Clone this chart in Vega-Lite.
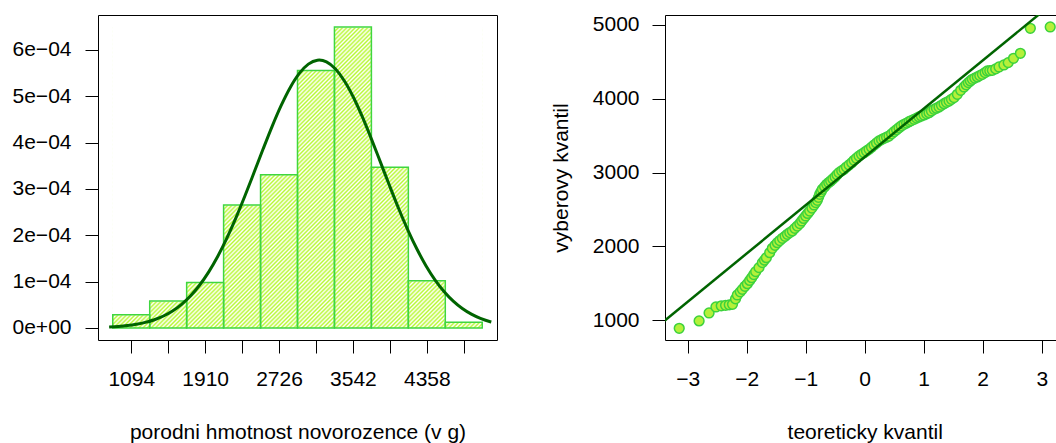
{
"$schema": "https://vega.github.io/schema/vega-lite/v6.json",
"background": "white",
"padding": {"left": 11, "top": 13, "right": 0, "bottom": 0},
"config": {
  "font": "Liberation Sans",
  "axis": {"grid": false, "labelFont": "Liberation Sans", "labelFontSize": 21, "labelColor": "black", "titleFont": "Liberation Sans", "titleFontSize": 21, "titleFontWeight": "normal", "titleColor": "black", "tickColor": "black", "tickSize": 13, "tickWidth": 1, "domainColor": "black", "domainWidth": 1, "labelFlush": false, "labelOverlap": false}
},
"datasets": {
  "bars": [
    {"start": 890, "end": 1298, "density": 0.0000286},
    {"start": 1298, "end": 1706, "density": 0.000058},
    {"start": 1706, "end": 2114, "density": 0.000098},
    {"start": 2114, "end": 2522, "density": 0.0002655},
    {"start": 2522, "end": 2930, "density": 0.000331},
    {"start": 2930, "end": 3338, "density": 0.0005555},
    {"start": 3338, "end": 3746, "density": 0.0006495},
    {"start": 3746, "end": 4154, "density": 0.000347},
    {"start": 4154, "end": 4562, "density": 0.000102},
    {"start": 4562, "end": 4970, "density": 0.0000123}
  ],
  "curve": [
    {"x": 850, "d": 2.03e-6}, {"x": 950, "d": 3.27e-6}, {"x": 1050, "d": 5.15e-6}, {"x": 1150, "d": 7.96e-6},
    {"x": 1250, "d": 1.205e-5}, {"x": 1350, "d": 1.784e-5}, {"x": 1450, "d": 2.587e-5}, {"x": 1550, "d": 3.674e-5},
    {"x": 1650, "d": 5.109e-5}, {"x": 1750, "d": 6.956e-5}, {"x": 1850, "d": 9.277e-5}, {"x": 1950, "d": 1.2113e-4},
    {"x": 2050, "d": 1.5486e-4}, {"x": 2150, "d": 1.9388e-4}, {"x": 2250, "d": 2.377e-4}, {"x": 2350, "d": 2.8538e-4},
    {"x": 2450, "d": 3.3546e-4}, {"x": 2550, "d": 3.8616e-4}, {"x": 2650, "d": 4.3527e-4}, {"x": 2750, "d": 4.8041e-4},
    {"x": 2850, "d": 5.1927e-4}, {"x": 2950, "d": 5.4956e-4}, {"x": 3050, "d": 5.6952e-4}, {"x": 3150, "d": 5.7796e-4},
    {"x": 3170, "d": 5.782e-4}, {"x": 3250, "d": 5.7433e-4}, {"x": 3350, "d": 5.5885e-4}, {"x": 3450, "d": 5.325e-4},
    {"x": 3550, "d": 4.9685e-4}, {"x": 3650, "d": 4.5392e-4}, {"x": 3750, "d": 4.061e-4}, {"x": 3850, "d": 3.5577e-4},
    {"x": 3950, "d": 3.0523e-4}, {"x": 4050, "d": 2.5637e-4}, {"x": 4150, "d": 2.1088e-4}, {"x": 4250, "d": 1.6986e-4},
    {"x": 4350, "d": 1.3398e-4}, {"x": 4450, "d": 1.0348e-4}, {"x": 4550, "d": 7.825e-5}, {"x": 4650, "d": 5.795e-5},
    {"x": 4750, "d": 4.202e-5}, {"x": 4850, "d": 2.985e-5}, {"x": 4950, "d": 2.075e-5}, {"x": 5050, "d": 1.413e-5},
    {"x": 5070, "d": 1.306e-5}
  ],
  "qq": [
    {"q": -3.144, "v": 891}, {"q": -2.807, "v": 991}, {"q": -2.638, "v": 1099}, {"q": -2.522, "v": 1180},
    {"q": -2.432, "v": 1196}, {"q": -2.359, "v": 1203}, {"q": -2.296, "v": 1210}, {"q": -2.241, "v": 1216},
    {"q": -2.19, "v": 1290}, {"q": -2.159, "v": 1343}, {"q": -2.11, "v": 1385}, {"q": -2.074, "v": 1419},
    {"q": -2.03, "v": 1460}, {"q": -1.989, "v": 1496}, {"q": -1.95, "v": 1540}, {"q": -1.916, "v": 1577},
    {"q": -1.88, "v": 1620}, {"q": -1.848, "v": 1659}, {"q": -1.792, "v": 1713}, {"q": -1.735, "v": 1781},
    {"q": -1.7, "v": 1815}, {"q": -1.667, "v": 1848}, {"q": -1.611, "v": 1916}, {"q": -1.566, "v": 1975},
    {"q": -1.52, "v": 2015}, {"q": -1.481, "v": 2051}, {"q": -1.44, "v": 2080}, {"q": -1.396, "v": 2110},
    {"q": -1.35, "v": 2138}, {"q": -1.311, "v": 2164}, {"q": -1.27, "v": 2188}, {"q": -1.227, "v": 2210},
    {"q": -1.185, "v": 2245}, {"q": -1.142, "v": 2277}, {"q": -1.1, "v": 2310}, {"q": -1.068, "v": 2345},
    {"q": -1.035, "v": 2380}, {"q": -1.001, "v": 2413}, {"q": -0.967, "v": 2447}, {"q": -0.933, "v": 2480},
    {"q": -0.895, "v": 2520}, {"q": -0.859, "v": 2562}, {"q": -0.83, "v": 2595}, {"q": -0.803, "v": 2625},
    {"q": -0.783, "v": 2665}, {"q": -0.763, "v": 2706}, {"q": -0.74, "v": 2740}, {"q": -0.718, "v": 2774},
    {"q": -0.68, "v": 2810}, {"q": -0.645, "v": 2842}, {"q": -0.61, "v": 2865}, {"q": -0.577, "v": 2887},
    {"q": -0.54, "v": 2915}, {"q": -0.503, "v": 2941}, {"q": -0.47, "v": 2970}, {"q": -0.436, "v": 3000},
    {"q": -0.39, "v": 3025}, {"q": -0.351, "v": 3045}, {"q": -0.31, "v": 3075}, {"q": -0.266, "v": 3104},
    {"q": -0.22, "v": 3135}, {"q": -0.181, "v": 3167}, {"q": -0.14, "v": 3195}, {"q": -0.097, "v": 3225},
    {"q": -0.055, "v": 3248}, {"q": -0.012, "v": 3270}, {"q": 0.03, "v": 3293}, {"q": 0.073, "v": 3316},
    {"q": 0.115, "v": 3345}, {"q": 0.158, "v": 3374}, {"q": 0.2, "v": 3402}, {"q": 0.242, "v": 3429},
    {"q": 0.285, "v": 3447}, {"q": 0.327, "v": 3465}, {"q": 0.37, "v": 3480}, {"q": 0.412, "v": 3496},
    {"q": 0.455, "v": 3525}, {"q": 0.497, "v": 3555}, {"q": 0.54, "v": 3582}, {"q": 0.581, "v": 3609},
    {"q": 0.62, "v": 3632}, {"q": 0.666, "v": 3654}, {"q": 0.71, "v": 3672}, {"q": 0.751, "v": 3690},
    {"q": 0.79, "v": 3706}, {"q": 0.836, "v": 3722}, {"q": 0.88, "v": 3738}, {"q": 0.92, "v": 3754},
    {"q": 0.96, "v": 3768}, {"q": 1.005, "v": 3781}, {"q": 1.05, "v": 3796}, {"q": 1.09, "v": 3812},
    {"q": 1.13, "v": 3835}, {"q": 1.175, "v": 3858}, {"q": 1.215, "v": 3873}, {"q": 1.259, "v": 3889},
    {"q": 1.3, "v": 3912}, {"q": 1.344, "v": 3934}, {"q": 1.385, "v": 3952}, {"q": 1.429, "v": 3970},
    {"q": 1.47, "v": 3993}, {"q": 1.514, "v": 4016}, {"q": 1.57, "v": 4061}, {"q": 1.627, "v": 4115},
    {"q": 1.683, "v": 4160}, {"q": 1.72, "v": 4190}, {"q": 1.756, "v": 4219}, {"q": 1.79, "v": 4242},
    {"q": 1.824, "v": 4264}, {"q": 1.865, "v": 4280}, {"q": 1.909, "v": 4296}, {"q": 1.95, "v": 4314},
    {"q": 1.994, "v": 4332}, {"q": 2.04, "v": 4355}, {"q": 2.078, "v": 4377}, {"q": 2.12, "v": 4380},
    {"q": 2.163, "v": 4386}, {"q": 2.22, "v": 4405}, {"q": 2.276, "v": 4431}, {"q": 2.359, "v": 4458},
    {"q": 2.432, "v": 4490}, {"q": 2.522, "v": 4548}, {"q": 2.638, "v": 4616}, {"q": 2.807, "v": 4955},
    {"q": 3.144, "v": 4973}
  ],
  "qqline": [
    {"q": -3.6, "v": 859},
    {"q": 3.6, "v": 5565}
  ]
},
"spacing": 168,
"bounds": "flush",
"hconcat": [
  {
    "width": 399,
    "height": 325,
    "view": {"stroke": "black", "strokeWidth": 1},
    "encoding": {
      "x": {"type": "quantitative", "scale": {"domain": [727, 5133], "nice": false, "zero": false},
            "axis": {"values": [1094, 1502, 1910, 2318, 2726, 3134, 3542, 3950, 4358, 4766], "labelExpr": "(datum.value - 1094) % 816 == 0 ? format(datum.value, 'd') : ''", "domain": false, "labelPadding": 15, "title": "porodni hmotnost novorozence (v g)", "titleY": 98, "titleBaseline": "alphabetic"}},
      "y": {"type": "quantitative", "scale": {"domain": [-0.0000259, 0.0006755], "nice": false, "zero": false},
            "axis": {"values": [0, 0.0001, 0.0002, 0.0003, 0.0004, 0.0005, 0.0006], "labelExpr": "datum.value < 0.00000001 ? '0e+00' : format(datum.value * 10000, '.0f') + 'e\u221204'", "domain": false, "labelPadding": 14, "title": null}}
    },
    "layer": [
      {
        "data": {"name": "bars"},
        "mark": {"type": "rect", "stroke": null, "fill": {"gradient": "linear", "x1": 0, "y1": 0, "x2": 1.0908, "y2": 0.8885, "stops": [
{"offset":0,"color":"#b8f834"},{"offset":0.003125,"color":"#fff"},{"offset":0.00625,"color":"#b8f834"},{"offset":0.009375,"color":"#fff"},{"offset":0.0125,"color":"#b8f834"},{"offset":0.015625,"color":"#fff"},{"offset":0.01875,"color":"#b8f834"},{"offset":0.021875,"color":"#fff"},{"offset":0.025,"color":"#b8f834"},{"offset":0.028125,"color":"#fff"},{"offset":0.03125,"color":"#b8f834"},{"offset":0.034375,"color":"#fff"},{"offset":0.0375,"color":"#b8f834"},{"offset":0.040625,"color":"#fff"},{"offset":0.04375,"color":"#b8f834"},{"offset":0.046875,"color":"#fff"},{"offset":0.05,"color":"#b8f834"},{"offset":0.053125,"color":"#fff"},{"offset":0.05625,"color":"#b8f834"},{"offset":0.059375,"color":"#fff"},{"offset":0.0625,"color":"#b8f834"},{"offset":0.065625,"color":"#fff"},{"offset":0.06875,"color":"#b8f834"},{"offset":0.071875,"color":"#fff"},{"offset":0.075,"color":"#b8f834"},{"offset":0.078125,"color":"#fff"},{"offset":0.08125,"color":"#b8f834"},{"offset":0.084375,"color":"#fff"},{"offset":0.0875,"color":"#b8f834"},{"offset":0.090625,"color":"#fff"},{"offset":0.09375,"color":"#b8f834"},{"offset":0.096875,"color":"#fff"},
{"offset":0.1,"color":"#b8f834"},{"offset":0.103125,"color":"#fff"},{"offset":0.10625,"color":"#b8f834"},{"offset":0.109375,"color":"#fff"},{"offset":0.1125,"color":"#b8f834"},{"offset":0.115625,"color":"#fff"},{"offset":0.11875,"color":"#b8f834"},{"offset":0.121875,"color":"#fff"},{"offset":0.125,"color":"#b8f834"},{"offset":0.128125,"color":"#fff"},{"offset":0.13125,"color":"#b8f834"},{"offset":0.134375,"color":"#fff"},{"offset":0.1375,"color":"#b8f834"},{"offset":0.140625,"color":"#fff"},{"offset":0.14375,"color":"#b8f834"},{"offset":0.146875,"color":"#fff"},{"offset":0.15,"color":"#b8f834"},{"offset":0.153125,"color":"#fff"},{"offset":0.15625,"color":"#b8f834"},{"offset":0.159375,"color":"#fff"},{"offset":0.1625,"color":"#b8f834"},{"offset":0.165625,"color":"#fff"},{"offset":0.16875,"color":"#b8f834"},{"offset":0.171875,"color":"#fff"},{"offset":0.175,"color":"#b8f834"},{"offset":0.178125,"color":"#fff"},{"offset":0.18125,"color":"#b8f834"},{"offset":0.184375,"color":"#fff"},{"offset":0.1875,"color":"#b8f834"},{"offset":0.190625,"color":"#fff"},{"offset":0.19375,"color":"#b8f834"},{"offset":0.196875,"color":"#fff"},
{"offset":0.2,"color":"#b8f834"},{"offset":0.203125,"color":"#fff"},{"offset":0.20625,"color":"#b8f834"},{"offset":0.209375,"color":"#fff"},{"offset":0.2125,"color":"#b8f834"},{"offset":0.215625,"color":"#fff"},{"offset":0.21875,"color":"#b8f834"},{"offset":0.221875,"color":"#fff"},{"offset":0.225,"color":"#b8f834"},{"offset":0.228125,"color":"#fff"},{"offset":0.23125,"color":"#b8f834"},{"offset":0.234375,"color":"#fff"},{"offset":0.2375,"color":"#b8f834"},{"offset":0.240625,"color":"#fff"},{"offset":0.24375,"color":"#b8f834"},{"offset":0.246875,"color":"#fff"},{"offset":0.25,"color":"#b8f834"},{"offset":0.253125,"color":"#fff"},{"offset":0.25625,"color":"#b8f834"},{"offset":0.259375,"color":"#fff"},{"offset":0.2625,"color":"#b8f834"},{"offset":0.265625,"color":"#fff"},{"offset":0.26875,"color":"#b8f834"},{"offset":0.271875,"color":"#fff"},{"offset":0.275,"color":"#b8f834"},{"offset":0.278125,"color":"#fff"},{"offset":0.28125,"color":"#b8f834"},{"offset":0.284375,"color":"#fff"},{"offset":0.2875,"color":"#b8f834"},{"offset":0.290625,"color":"#fff"},{"offset":0.29375,"color":"#b8f834"},{"offset":0.296875,"color":"#fff"},
{"offset":0.3,"color":"#b8f834"},{"offset":0.303125,"color":"#fff"},{"offset":0.30625,"color":"#b8f834"},{"offset":0.309375,"color":"#fff"},{"offset":0.3125,"color":"#b8f834"},{"offset":0.315625,"color":"#fff"},{"offset":0.31875,"color":"#b8f834"},{"offset":0.321875,"color":"#fff"},{"offset":0.325,"color":"#b8f834"},{"offset":0.328125,"color":"#fff"},{"offset":0.33125,"color":"#b8f834"},{"offset":0.334375,"color":"#fff"},{"offset":0.3375,"color":"#b8f834"},{"offset":0.340625,"color":"#fff"},{"offset":0.34375,"color":"#b8f834"},{"offset":0.346875,"color":"#fff"},{"offset":0.35,"color":"#b8f834"},{"offset":0.353125,"color":"#fff"},{"offset":0.35625,"color":"#b8f834"},{"offset":0.359375,"color":"#fff"},{"offset":0.3625,"color":"#b8f834"},{"offset":0.365625,"color":"#fff"},{"offset":0.36875,"color":"#b8f834"},{"offset":0.371875,"color":"#fff"},{"offset":0.375,"color":"#b8f834"},{"offset":0.378125,"color":"#fff"},{"offset":0.38125,"color":"#b8f834"},{"offset":0.384375,"color":"#fff"},{"offset":0.3875,"color":"#b8f834"},{"offset":0.390625,"color":"#fff"},{"offset":0.39375,"color":"#b8f834"},{"offset":0.396875,"color":"#fff"},
{"offset":0.4,"color":"#b8f834"},{"offset":0.403125,"color":"#fff"},{"offset":0.40625,"color":"#b8f834"},{"offset":0.409375,"color":"#fff"},{"offset":0.4125,"color":"#b8f834"},{"offset":0.415625,"color":"#fff"},{"offset":0.41875,"color":"#b8f834"},{"offset":0.421875,"color":"#fff"},{"offset":0.425,"color":"#b8f834"},{"offset":0.428125,"color":"#fff"},{"offset":0.43125,"color":"#b8f834"},{"offset":0.434375,"color":"#fff"},{"offset":0.4375,"color":"#b8f834"},{"offset":0.440625,"color":"#fff"},{"offset":0.44375,"color":"#b8f834"},{"offset":0.446875,"color":"#fff"},{"offset":0.45,"color":"#b8f834"},{"offset":0.453125,"color":"#fff"},{"offset":0.45625,"color":"#b8f834"},{"offset":0.459375,"color":"#fff"},{"offset":0.4625,"color":"#b8f834"},{"offset":0.465625,"color":"#fff"},{"offset":0.46875,"color":"#b8f834"},{"offset":0.471875,"color":"#fff"},{"offset":0.475,"color":"#b8f834"},{"offset":0.478125,"color":"#fff"},{"offset":0.48125,"color":"#b8f834"},{"offset":0.484375,"color":"#fff"},{"offset":0.4875,"color":"#b8f834"},{"offset":0.490625,"color":"#fff"},{"offset":0.49375,"color":"#b8f834"},{"offset":0.496875,"color":"#fff"},
{"offset":0.5,"color":"#b8f834"},{"offset":0.503125,"color":"#fff"},{"offset":0.50625,"color":"#b8f834"},{"offset":0.509375,"color":"#fff"},{"offset":0.5125,"color":"#b8f834"},{"offset":0.515625,"color":"#fff"},{"offset":0.51875,"color":"#b8f834"},{"offset":0.521875,"color":"#fff"},{"offset":0.525,"color":"#b8f834"},{"offset":0.528125,"color":"#fff"},{"offset":0.53125,"color":"#b8f834"},{"offset":0.534375,"color":"#fff"},{"offset":0.5375,"color":"#b8f834"},{"offset":0.540625,"color":"#fff"},{"offset":0.54375,"color":"#b8f834"},{"offset":0.546875,"color":"#fff"},{"offset":0.55,"color":"#b8f834"},{"offset":0.553125,"color":"#fff"},{"offset":0.55625,"color":"#b8f834"},{"offset":0.559375,"color":"#fff"},{"offset":0.5625,"color":"#b8f834"},{"offset":0.565625,"color":"#fff"},{"offset":0.56875,"color":"#b8f834"},{"offset":0.571875,"color":"#fff"},{"offset":0.575,"color":"#b8f834"},{"offset":0.578125,"color":"#fff"},{"offset":0.58125,"color":"#b8f834"},{"offset":0.584375,"color":"#fff"},{"offset":0.5875,"color":"#b8f834"},{"offset":0.590625,"color":"#fff"},{"offset":0.59375,"color":"#b8f834"},{"offset":0.596875,"color":"#fff"},
{"offset":0.6,"color":"#b8f834"},{"offset":0.603125,"color":"#fff"},{"offset":0.60625,"color":"#b8f834"},{"offset":0.609375,"color":"#fff"},{"offset":0.6125,"color":"#b8f834"},{"offset":0.615625,"color":"#fff"},{"offset":0.61875,"color":"#b8f834"},{"offset":0.621875,"color":"#fff"},{"offset":0.625,"color":"#b8f834"},{"offset":0.628125,"color":"#fff"},{"offset":0.63125,"color":"#b8f834"},{"offset":0.634375,"color":"#fff"},{"offset":0.6375,"color":"#b8f834"},{"offset":0.640625,"color":"#fff"},{"offset":0.64375,"color":"#b8f834"},{"offset":0.646875,"color":"#fff"},{"offset":0.65,"color":"#b8f834"},{"offset":0.653125,"color":"#fff"},{"offset":0.65625,"color":"#b8f834"},{"offset":0.659375,"color":"#fff"},{"offset":0.6625,"color":"#b8f834"},{"offset":0.665625,"color":"#fff"},{"offset":0.66875,"color":"#b8f834"},{"offset":0.671875,"color":"#fff"},{"offset":0.675,"color":"#b8f834"},{"offset":0.678125,"color":"#fff"},{"offset":0.68125,"color":"#b8f834"},{"offset":0.684375,"color":"#fff"},{"offset":0.6875,"color":"#b8f834"},{"offset":0.690625,"color":"#fff"},{"offset":0.69375,"color":"#b8f834"},{"offset":0.696875,"color":"#fff"},
{"offset":0.7,"color":"#b8f834"},{"offset":0.703125,"color":"#fff"},{"offset":0.70625,"color":"#b8f834"},{"offset":0.709375,"color":"#fff"},{"offset":0.7125,"color":"#b8f834"},{"offset":0.715625,"color":"#fff"},{"offset":0.71875,"color":"#b8f834"},{"offset":0.721875,"color":"#fff"},{"offset":0.725,"color":"#b8f834"},{"offset":0.728125,"color":"#fff"},{"offset":0.73125,"color":"#b8f834"},{"offset":0.734375,"color":"#fff"},{"offset":0.7375,"color":"#b8f834"},{"offset":0.740625,"color":"#fff"},{"offset":0.74375,"color":"#b8f834"},{"offset":0.746875,"color":"#fff"},{"offset":0.75,"color":"#b8f834"},{"offset":0.753125,"color":"#fff"},{"offset":0.75625,"color":"#b8f834"},{"offset":0.759375,"color":"#fff"},{"offset":0.7625,"color":"#b8f834"},{"offset":0.765625,"color":"#fff"},{"offset":0.76875,"color":"#b8f834"},{"offset":0.771875,"color":"#fff"},{"offset":0.775,"color":"#b8f834"},{"offset":0.778125,"color":"#fff"},{"offset":0.78125,"color":"#b8f834"},{"offset":0.784375,"color":"#fff"},{"offset":0.7875,"color":"#b8f834"},{"offset":0.790625,"color":"#fff"},{"offset":0.79375,"color":"#b8f834"},{"offset":0.796875,"color":"#fff"},
{"offset":0.8,"color":"#b8f834"},{"offset":0.803125,"color":"#fff"},{"offset":0.80625,"color":"#b8f834"},{"offset":0.809375,"color":"#fff"},{"offset":0.8125,"color":"#b8f834"},{"offset":0.815625,"color":"#fff"},{"offset":0.81875,"color":"#b8f834"},{"offset":0.821875,"color":"#fff"},{"offset":0.825,"color":"#b8f834"},{"offset":0.828125,"color":"#fff"},{"offset":0.83125,"color":"#b8f834"},{"offset":0.834375,"color":"#fff"},{"offset":0.8375,"color":"#b8f834"},{"offset":0.840625,"color":"#fff"},{"offset":0.84375,"color":"#b8f834"},{"offset":0.846875,"color":"#fff"},{"offset":0.85,"color":"#b8f834"},{"offset":0.853125,"color":"#fff"},{"offset":0.85625,"color":"#b8f834"},{"offset":0.859375,"color":"#fff"},{"offset":0.8625,"color":"#b8f834"},{"offset":0.865625,"color":"#fff"},{"offset":0.86875,"color":"#b8f834"},{"offset":0.871875,"color":"#fff"},{"offset":0.875,"color":"#b8f834"},{"offset":0.878125,"color":"#fff"},{"offset":0.88125,"color":"#b8f834"},{"offset":0.884375,"color":"#fff"},{"offset":0.8875,"color":"#b8f834"},{"offset":0.890625,"color":"#fff"},{"offset":0.89375,"color":"#b8f834"},{"offset":0.896875,"color":"#fff"},
{"offset":0.9,"color":"#b8f834"},{"offset":0.903125,"color":"#fff"},{"offset":0.90625,"color":"#b8f834"},{"offset":0.909375,"color":"#fff"},{"offset":0.9125,"color":"#b8f834"},{"offset":0.915625,"color":"#fff"},{"offset":0.91875,"color":"#b8f834"},{"offset":0.921875,"color":"#fff"},{"offset":0.925,"color":"#b8f834"},{"offset":0.928125,"color":"#fff"},{"offset":0.93125,"color":"#b8f834"},{"offset":0.934375,"color":"#fff"},{"offset":0.9375,"color":"#b8f834"},{"offset":0.940625,"color":"#fff"},{"offset":0.94375,"color":"#b8f834"},{"offset":0.946875,"color":"#fff"},{"offset":0.95,"color":"#b8f834"},{"offset":0.953125,"color":"#fff"},{"offset":0.95625,"color":"#b8f834"},{"offset":0.959375,"color":"#fff"},{"offset":0.9625,"color":"#b8f834"},{"offset":0.965625,"color":"#fff"},{"offset":0.96875,"color":"#b8f834"},{"offset":0.971875,"color":"#fff"},{"offset":0.975,"color":"#b8f834"},{"offset":0.978125,"color":"#fff"},{"offset":0.98125,"color":"#b8f834"},{"offset":0.984375,"color":"#fff"},{"offset":0.9875,"color":"#b8f834"},{"offset":0.990625,"color":"#fff"},{"offset":0.99375,"color":"#b8f834"},{"offset":0.996875,"color":"#fff"},
{"offset":1,"color":"#b8f834"}
        ]}},
        "encoding": {
          "x": {"aggregate": "min", "field": "start", "type": "quantitative"},
          "x2": {"aggregate": "max", "field": "end"},
          "y": {"aggregate": "max", "field": "density", "type": "quantitative"},
          "y2": {"datum": 0}
        }
      },
      {
        "data": {"name": "bars"},
        "transform": [{"joinaggregate": [{"op": "max", "field": "density", "as": "top"}]}],
        "mark": {"type": "rect", "fill": "white", "stroke": "white", "strokeWidth": 1},
        "encoding": {
          "x": {"field": "start", "type": "quantitative"},
          "x2": {"field": "end"},
          "y": {"field": "density", "type": "quantitative"},
          "y2": {"field": "top"}
        }
      },
      {
        "data": {"name": "bars"},
        "mark": {"type": "rect", "fillOpacity": 0, "stroke": "#3fd63f", "strokeWidth": 1.5},
        "encoding": {
          "x": {"field": "start", "type": "quantitative"},
          "x2": {"field": "end"},
          "y": {"field": "density", "type": "quantitative"},
          "y2": {"datum": 0}
        }
      },
      {
        "data": {"name": "curve"},
        "mark": {"type": "line", "color": "#006400", "strokeWidth": 3, "interpolate": "monotone"},
        "encoding": {
          "x": {"field": "x", "type": "quantitative"},
          "y": {"field": "d", "type": "quantitative"}
        }
      }
    ]
  },
  {
    "width": 392,
    "height": 325,
    "view": {"stroke": null},
    "resolve": {"axis": {"x": "independent"}},
    "layer": [
      {
        "data": {"name": "qq"},
        "mark": {"type": "circle", "size": 95, "fill": "#b5f03a", "stroke": "#3cd23c", "strokeWidth": 1.5, "opacity": 1, "fillOpacity": 1},
        "encoding": {
          "x": {"field": "q", "type": "quantitative", "scale": {"domain": [-3.385, 3.259], "nice": false, "zero": false},
                "axis": {"values": [-3, -2, -1, 0, 1, 2, 3], "format": "d", "domain": true, "labelPadding": 15, "title": "teoreticky kvantil", "titleX": 199.7, "titleY": 98, "titleAlign": "center", "titleBaseline": "alphabetic"}},
          "y": {"field": "v", "type": "quantitative", "scale": {"domain": [733, 5135], "nice": false, "zero": false},
                "axis": {"values": [1000, 2000, 3000, 4000, 5000], "format": "d", "domain": true, "labelPadding": 13, "title": "vyberovy kvantil", "titleX": -98, "titleY": 162.5, "titleAngle": 270, "titleAlign": "center", "titleBaseline": "alphabetic"}}
        }
      },
      {
        "data": {"name": "qqline"},
        "mark": {"type": "line", "color": "#006400", "strokeWidth": 2.5, "clip": true},
        "encoding": {
          "x": {"field": "q", "type": "quantitative", "scale": {"domain": [-3.385, 3.259], "nice": false, "zero": false},
                "axis": {"orient": "top", "labels": false, "ticks": false, "title": null, "domain": true}},
          "y": {"field": "v", "type": "quantitative", "scale": {"domain": [733, 5135], "nice": false, "zero": false}}
        }
      }
    ]
  }
]
}
